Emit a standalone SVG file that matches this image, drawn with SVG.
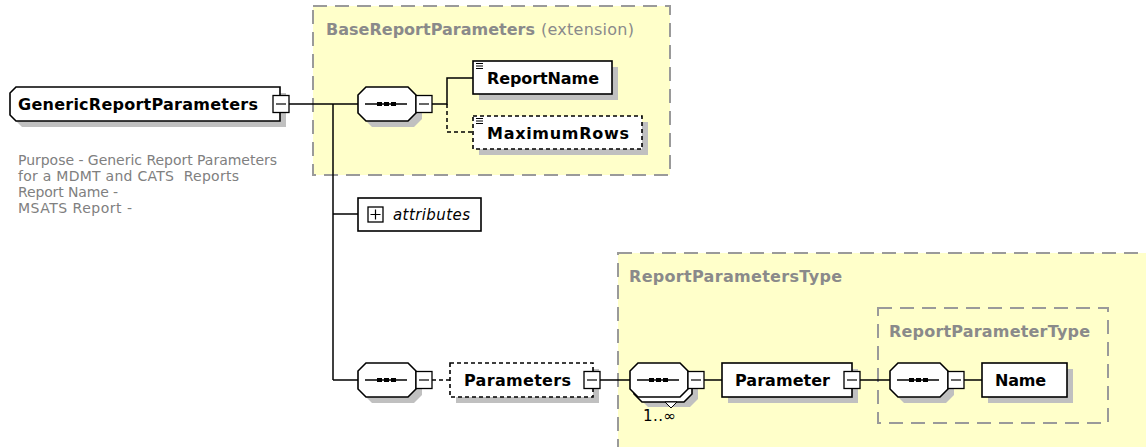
<svg xmlns="http://www.w3.org/2000/svg" xmlns:xlink="http://www.w3.org/1999/xlink" width="1146" height="447" viewBox="0 0 1146 447">
<style>
.bg{fill:#ffffff}
.cont{fill:#FFFFCA;stroke:#9a9a9a;stroke-width:2;stroke-dasharray:14 8}
.ttl{font-family:"DejaVu Sans",sans-serif;font-size:16px;font-weight:bold;fill:#8a8a8a}
.ttn{font-family:"DejaVu Sans",sans-serif;font-size:16px;fill:#8a8a8a}
.lbl{font-family:"DejaVu Sans",sans-serif;font-size:16px;font-weight:bold;fill:#000}
.desc{font-family:"DejaVu Sans",sans-serif;font-size:14px;fill:#808080}
.ital{font-family:"DejaVu Sans",sans-serif;font-size:15px;font-style:italic;fill:#000}
.occ{font-family:"DejaVu Sans",sans-serif;font-size:15px;fill:#000}
.box{fill:#fff;stroke:#000;stroke-width:1.6}
.dbox{fill:#fff;stroke:#000;stroke-width:1.6;stroke-dasharray:4 3}
.shd{fill:#c0c0c0}
.ln{fill:none;stroke:#000;stroke-width:1.5}
.dln{fill:none;stroke:#000;stroke-width:1.5;stroke-dasharray:4 3}
.btn{fill:#fff;stroke:#000;stroke-width:1.3}
.thin{fill:none;stroke:#000;stroke-width:1.2}
</style>
<defs>
<path id="oct" d="M8,0 H50 L58,8 V26 L50,34 H8 L0,26 V8 Z"/>
<g id="seqsym">
<path class="ln" d="M7,17 H49"/>
<rect x="19" y="15" width="5" height="4" fill="#000"/>
<rect x="26" y="15" width="5" height="4" fill="#000"/>
<rect x="33" y="15" width="5" height="4" fill="#000"/>
</g>
<g id="minus">
<rect class="btn" x="0" y="0" width="16" height="17"/>
<path class="thin" d="M3,8.5 H13"/>
</g>
<g id="seq">
<use xlink:href="#oct" transform="translate(6,6)" class="shd"/>
<use xlink:href="#oct" class="box"/>
<use xlink:href="#seqsym"/>
<use xlink:href="#minus" x="58" y="8.5"/>
</g>
<g id="sicon">
<path class="thin" d="M0,0.5 H7 M0,3 H7 M0,5.5 H7"/>
</g>
</defs>
<rect class="bg" x="0" y="0" width="1146" height="447"/>

<g id="BaseReportParameters">
<rect class="cont" x="313" y="6" width="357" height="169"/>
<text class="ttl" x="326" y="35" textLength="209">BaseReportParameters</text>
<text class="ttn" x="541" y="35" textLength="93">(extension)</text>
</g>
<g id="ReportParametersType">
<rect class="cont" x="618" y="253" width="545" height="215"/>
<text class="ttl" x="629" y="282" textLength="213">ReportParametersType</text>
</g>
<g id="ReportParameterType">
<rect class="cont" x="878" y="308" width="230" height="115"/>
<text class="ttl" x="889" y="337" textLength="201">ReportParameterType</text>
</g>

<g id="connectors">
<path class="ln" d="M289,104 H358"/>
<path class="ln" d="M333,104 V380"/>
<path class="ln" d="M333,214 H358"/>
<path class="ln" d="M333,380 H358"/>
<path class="ln" d="M432,104 H447 V78 H473"/>
<path class="dln" d="M447,104 V132 H473"/>
<path class="dln" d="M432,380 H450"/>
<path class="ln" d="M600,380 H630"/>
<path class="ln" d="M704,380 H722"/>
<path class="ln" d="M860,380 H890"/>
<path class="ln" d="M964,380 H982"/>
</g>

<g id="GenericReportParameters">
<path class="shd" d="M22,93 H286 V127 H22 L16,121 V99 Z"/>
<path class="box" d="M16,87 H280 V121 H16 L10,115 V93 Z"/>
<text class="lbl" x="18" y="110" textLength="240">GenericReportParameters</text>
<use xlink:href="#minus" x="273" y="95.5"/>
</g>
<g id="description">
<text class="desc" x="18" y="165" textLength="259">Purpose - Generic Report Parameters</text>
<text class="desc" x="18" y="181" textLength="221" xml:space="preserve">for a MDMT and CATS  Reports</text>
<text class="desc" x="18" y="197" textLength="100">Report Name -</text>
<text class="desc" x="18" y="213" textLength="114">MSATS Report -</text>
</g>

<g id="sequence1">
<use xlink:href="#seq" x="358" y="87"/>
</g>
<g id="ReportName">
<rect class="shd" x="479" y="67" width="139" height="33"/>
<rect class="box" x="473" y="61" width="139" height="33"/>
<use xlink:href="#sicon" x="476" y="63"/>
<text class="lbl" x="487" y="84" textLength="112">ReportName</text>
</g>
<g id="MaximumRows">
<rect class="shd" x="479" y="122" width="169" height="33"/>
<rect class="dbox" x="473" y="116" width="169" height="33"/>
<use xlink:href="#sicon" x="476" y="118"/>
<text class="lbl" x="487" y="139" textLength="142">MaximumRows</text>
</g>

<g id="attributes">
<rect class="box" x="358" y="198" width="123" height="33"/>
<rect class="btn" x="368" y="207" width="15" height="15"/>
<path class="thin" d="M370.5,214.5 H380.5 M375.5,209.5 V219.5"/>
<text class="ital" x="393" y="220" textLength="77">attributes</text>
</g>

<g id="sequence2">
<use xlink:href="#seq" x="358" y="363"/>
</g>
<g id="Parameters">
<rect class="shd" x="456" y="369" width="143" height="34"/>
<rect class="dbox" x="450" y="363" width="143" height="34"/>
<text class="lbl" x="464" y="386" textLength="107">Parameters</text>
<use xlink:href="#minus" x="584" y="371.5"/>
</g>

<g id="sequence3">
<use xlink:href="#oct" transform="translate(640,373)" class="shd"/>
<use xlink:href="#oct" transform="translate(634,368)" class="box"/>
<polygon points="665,402 677,402 671,408" fill="#fff" stroke="#000" stroke-width="1"/>
<use xlink:href="#oct" transform="translate(630,363)" class="box"/>
<use xlink:href="#seqsym" x="630" y="363"/>
<use xlink:href="#minus" x="688" y="371.5"/>
<text class="occ" x="643" y="421" textLength="33">1..∞</text>
</g>
<g id="Parameter">
<rect class="shd" x="728" y="369" width="130" height="34"/>
<rect class="box" x="722" y="363" width="130" height="34"/>
<text class="lbl" x="735" y="386" textLength="95">Parameter</text>
<use xlink:href="#minus" x="844" y="371.5"/>
</g>

<g id="sequence4">
<use xlink:href="#seq" x="890" y="363"/>
</g>
<g id="Name">
<rect class="shd" x="988" y="369" width="85" height="34"/>
<rect class="box" x="982" y="363" width="85" height="34"/>
<text class="lbl" x="995" y="386" textLength="51">Name</text>
</g>
</svg>
